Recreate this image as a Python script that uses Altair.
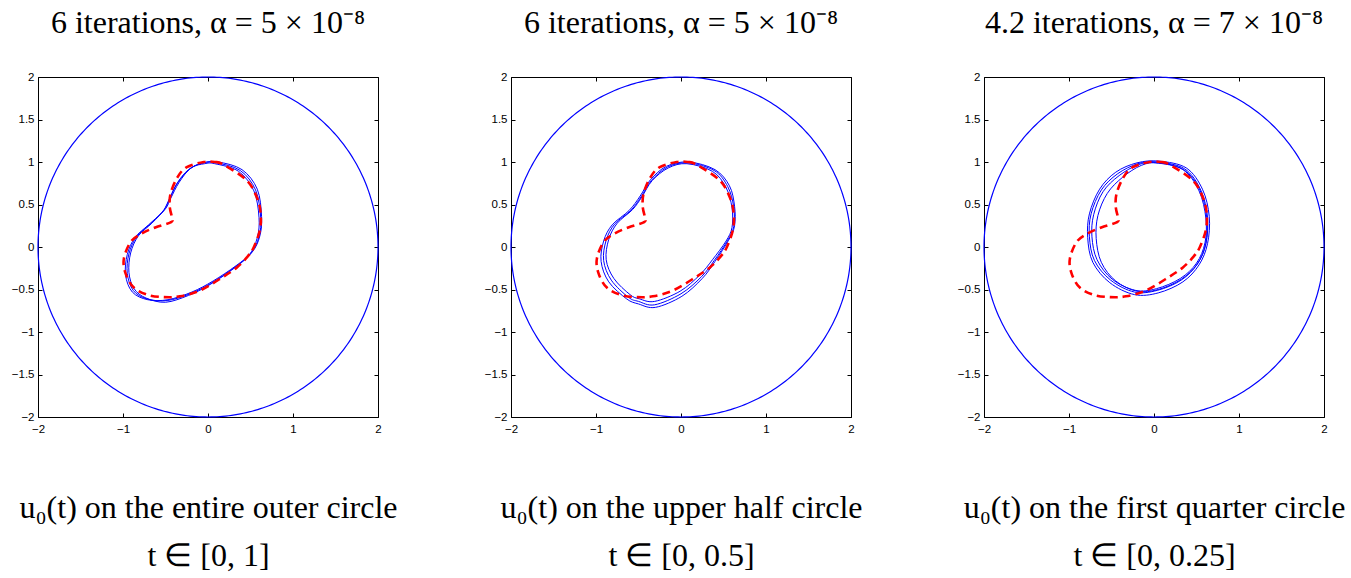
import altair as alt
import numpy as np
import pandas as pd

# Panel texts
TITLES = [
    "6 iterations, α = 5 × 10⁻⁸",
    "6 iterations, α = 5 × 10⁻⁸",
    "4.2 iterations, α = 7 × 10⁻⁸",
]
CAPTION_1 = [
    "u₀(t) on the entire outer circle",
    "u₀(t) on the upper half circle",
    "u₀(t) on the first quarter circle",
]
CAPTION_2 = ["t ∈ [0, 1]", "t ∈ [0, 0.5]", "t ∈ [0, 0.25]"]

X_TICKS = [-2, -1, 0, 1, 2]
Y_TICKS = [-2, -1.5, -1, -0.5, 0, 0.5, 1, 1.5, 2]

# Outer boundary: circle of radius 2
R_OUTER = 2.0
N_OUTER = 361

# Exact inner boundary (red dashed), identical in all panels
EXACT_X = [-0.05, 0.08, 0.18, 0.46, 0.58, 0.62, 0.61, 0.54, 0.46, 0.34, 0.18, -0.09,
           -0.33, -0.52, -0.72, -0.88, -0.97, -0.99, -0.91, -0.78, -0.62, -0.44,
           -0.42, -0.45, -0.44, -0.36, -0.25]
EXACT_Y = [1.00, 1.00, 0.97, 0.78, 0.57, 0.39, 0.20, 0.00, -0.12, -0.24, -0.35, -0.51,
           -0.58, -0.59, -0.56, -0.47, -0.31, -0.14, 0.06, 0.16, 0.23, 0.29,
           0.33, 0.47, 0.63, 0.82, 0.94]

# Reconstructed boundaries (blue), one list per iterate
P1_X = [
    [0.10, 0.38, 0.56, 0.62, 0.60, 0.50, 0.30, 0.03, -0.21, -0.48, -0.72, -0.88, -0.95, -0.93, -0.84, -0.68, -0.52, -0.46, -0.36, -0.21, -0.05],
    [0.12, 0.40, 0.58, 0.63, 0.61, 0.52, 0.33, 0.06, -0.19, -0.47, -0.71, -0.89, -0.97, -0.95, -0.86, -0.70, -0.54, -0.47, -0.37, -0.23, -0.06],
    [0.08, 0.36, 0.54, 0.60, 0.58, 0.48, 0.28, 0.01, -0.23, -0.50, -0.73, -0.87, -0.93, -0.91, -0.82, -0.66, -0.50, -0.44, -0.34, -0.20, -0.04],
]
P1_Y = [
    [0.99, 0.90, 0.67, 0.35, 0.12, -0.08, -0.25, -0.43, -0.55, -0.63, -0.61, -0.51, -0.31, -0.08, 0.12, 0.27, 0.43, 0.55, 0.75, 0.92, 0.99],
    [1.00, 0.91, 0.68, 0.36, 0.13, -0.06, -0.22, -0.40, -0.53, -0.62, -0.62, -0.53, -0.33, -0.09, 0.11, 0.26, 0.41, 0.53, 0.74, 0.91, 0.99],
    [0.98, 0.89, 0.66, 0.35, 0.11, -0.10, -0.27, -0.45, -0.57, -0.65, -0.60, -0.49, -0.30, -0.07, 0.13, 0.28, 0.45, 0.57, 0.76, 0.93, 0.98],
]
P2_X = [
    [0.09, 0.40, 0.57, 0.63, 0.63, 0.56, 0.40, 0.25, 0.01, -0.30, -0.50, -0.64, -0.85, -0.94, -0.91, -0.81, -0.61, -0.48, -0.36, -0.17],
    [0.08, 0.39, 0.55, 0.62, 0.62, 0.55, 0.39, 0.24, 0.00, -0.31, -0.50, -0.62, -0.82, -0.91, -0.88, -0.78, -0.59, -0.47, -0.35, -0.16],
    [0.07, 0.37, 0.53, 0.60, 0.60, 0.53, 0.37, 0.22, -0.01, -0.31, -0.49, -0.60, -0.79, -0.88, -0.85, -0.75, -0.57, -0.46, -0.34, -0.15],
]
P2_Y = [
    [1.00, 0.91, 0.72, 0.48, 0.25, 0.08, -0.17, -0.37, -0.58, -0.71, -0.67, -0.61, -0.41, -0.17, 0.07, 0.26, 0.43, 0.60, 0.79, 0.95],
    [0.99, 0.90, 0.71, 0.47, 0.24, 0.08, -0.16, -0.35, -0.55, -0.68, -0.64, -0.59, -0.39, -0.16, 0.08, 0.27, 0.43, 0.59, 0.78, 0.94],
    [0.98, 0.89, 0.70, 0.46, 0.23, 0.07, -0.15, -0.33, -0.52, -0.64, -0.61, -0.56, -0.37, -0.15, 0.09, 0.28, 0.44, 0.59, 0.78, 0.93],
]
P3_X = [
    [0.04, 0.36, 0.55, 0.63, 0.61, 0.51, 0.32, 0.04, -0.23, -0.51, -0.70, -0.76, -0.74, -0.62, -0.43, -0.19],
    [0.06, 0.38, 0.57, 0.65, 0.63, 0.53, 0.34, 0.05, -0.23, -0.52, -0.72, -0.78, -0.76, -0.64, -0.45, -0.20],
    [0.02, 0.34, 0.53, 0.61, 0.60, 0.50, 0.31, 0.03, -0.22, -0.49, -0.67, -0.73, -0.71, -0.60, -0.41, -0.18],
    [0.05, 0.35, 0.54, 0.62, 0.61, 0.51, 0.32, 0.05, -0.20, -0.45, -0.62, -0.68, -0.66, -0.55, -0.37, -0.15],
]
P3_Y = [
    [1.00, 0.92, 0.67, 0.35, 0.04, -0.20, -0.39, -0.51, -0.53, -0.39, -0.16, 0.12, 0.39, 0.67, 0.86, 0.98],
    [1.01, 0.93, 0.68, 0.36, 0.04, -0.21, -0.41, -0.54, -0.56, -0.42, -0.18, 0.11, 0.39, 0.68, 0.88, 0.99],
    [0.99, 0.91, 0.66, 0.34, 0.05, -0.19, -0.37, -0.49, -0.51, -0.38, -0.15, 0.12, 0.38, 0.65, 0.84, 0.97],
    [0.99, 0.91, 0.67, 0.35, 0.04, -0.20, -0.38, -0.50, -0.52, -0.40, -0.18, 0.10, 0.37, 0.63, 0.82, 0.96],
]
RECON = [(P1_X, P1_Y), (P2_X, P2_Y), (P3_X, P3_Y)]

SERIF = "Liberation Serif"
SANS = "Liberation Sans"
BLUE = "#0000ff"
RED = "#ff0000"
SIDE = 340
TICK = 4
TEXT_SIZE = 32


def tick_axis(orient, values):
    # inward-pointing tick marks only (axis pulled inside the frame)
    return alt.Axis(orient=orient, values=values, offset=-TICK, tickSize=TICK,
                    tickColor="black", tickWidth=1, labels=False, domain=False,
                    grid=False, title=None)


def panel(k):
    th = np.linspace(0, 2 * np.pi, N_OUTER)
    outer = pd.DataFrame({"x": R_OUTER * np.cos(th), "y": R_OUTER * np.sin(th),
                          "i": np.arange(N_OUTER)})
    xs, ys = RECON[k]
    rows = []
    for c, (cx, cy) in enumerate(zip(xs, ys)):
        for i, (a, b) in enumerate(zip(cx, cy)):
            rows.append({"x": a, "y": b, "c": c, "i": i})
    recon = pd.DataFrame(rows)
    exact = pd.DataFrame({"x": EXACT_X, "y": EXACT_Y, "i": range(len(EXACT_X))})

    sx = alt.Scale(domain=[-2, 2], nice=False, zero=False)
    sy = alt.Scale(domain=[-2, 2], nice=False, zero=False)

    x_main = alt.Axis(orient="bottom", values=X_TICKS, ticks=False, domain=False,
                      grid=False, labelPadding=6, labelFlush=False, format="~g",
                      labelFont=SANS, labelFontSize=11.5, labelColor="black",
                      title=[CAPTION_1[k], CAPTION_2[k]], titleFont=SERIF,
                      titleFontSize=TEXT_SIZE, titleFontWeight="normal",
                      titleColor="black", titleBaseline="alphabetic", titleY=100,
                      titleLineHeight=48)
    y_main = alt.Axis(orient="left", values=Y_TICKS, ticks=False, domain=False,
                      grid=False, labelPadding=4, labelFlush=False, format="~g",
                      labelFont=SANS, labelFontSize=11.5, labelColor="black",
                      title=None)

    outer_line = alt.Chart(outer).mark_line(color=BLUE, strokeWidth=1.2).encode(
        x=alt.X("x:Q", scale=sx, axis=x_main),
        y=alt.Y("y:Q", scale=sy, axis=y_main),
        order="i:Q",
    )
    recon_lines = alt.Chart(recon).mark_line(
        color=BLUE, strokeWidth=1, interpolate="cardinal-closed"
    ).encode(
        x=alt.X("x:Q", scale=sx, axis=tick_axis("bottom", X_TICKS)),
        y=alt.Y("y:Q", scale=sy, axis=tick_axis("left", Y_TICKS)),
        detail="c:N",
        order="i:Q",
    )
    exact_line = alt.Chart(exact).mark_line(
        color=RED, strokeWidth=2.6, strokeDash=[8, 5], interpolate="cardinal-closed"
    ).encode(
        x=alt.X("x:Q", scale=sx, axis=tick_axis("top", X_TICKS)),
        y=alt.Y("y:Q", scale=sy, axis=tick_axis("right", Y_TICKS)),
        order="i:Q",
    )
    return alt.layer(outer_line, recon_lines, exact_line).resolve_axis(
        x="independent", y="independent"
    ).properties(
        width=SIDE, height=SIDE,
        title=alt.TitleParams(TITLES[k], font=SERIF, fontSize=TEXT_SIZE,
                              fontWeight="normal", color="black",
                              baseline="alphabetic", offset=6,
                              anchor="middle", frame="group"),
    )


chart = alt.hconcat(panel(0), panel(1), panel(2), spacing=133, bounds="flush").properties(
    autosize=alt.AutoSizeParams(type="pad"),
    padding={"left": 10, "top": 6, "right": 5, "bottom": 5},
).configure_view(stroke="black", strokeWidth=1)

chart.save("out.html", embed_options={"renderer": "svg", "actions": False})
